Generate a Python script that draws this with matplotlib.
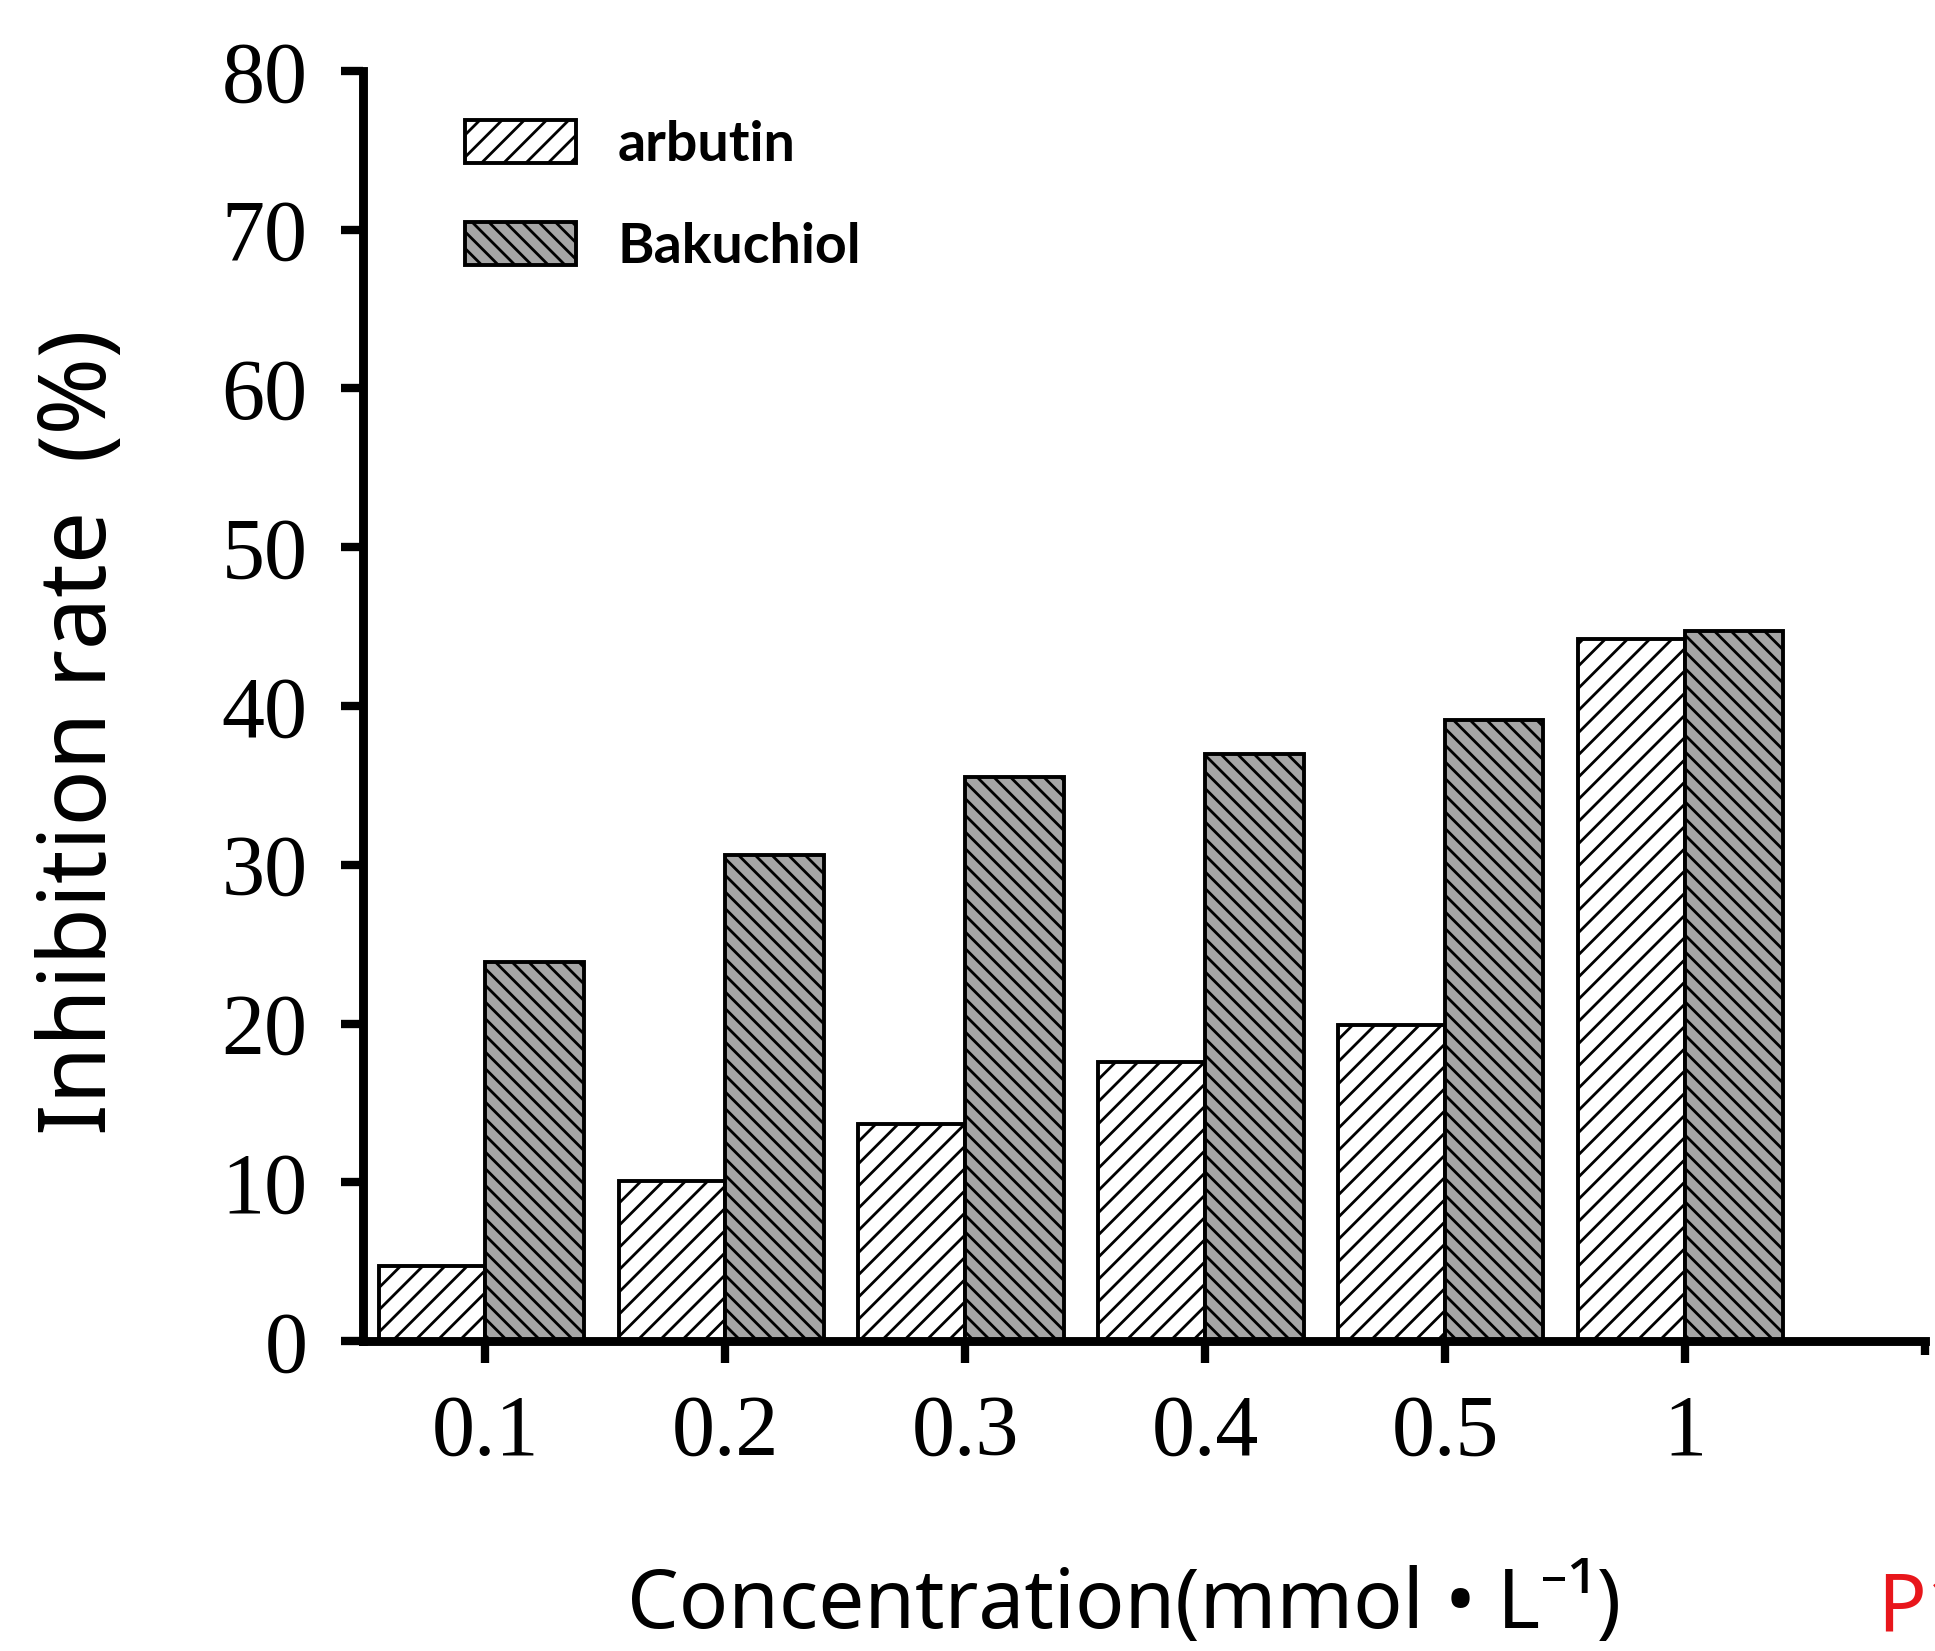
import matplotlib
matplotlib.use("Agg")
import matplotlib.pyplot as plt
import numpy as np

concentrations = ["0.1", "0.2", "0.3", "0.4", "0.5", "1"]
arbutin = [4.7, 10.1, 13.7, 17.6, 19.9, 44.2]
bakuchiol = [23.9, 30.6, 35.5, 37.0, 39.1, 44.7]
y_ticks = [0, 10, 20, 30, 40, 50, 60, 70, 80]

DPI = 200
W, H = 1935, 1651
fig = plt.figure(figsize=(W / DPI, H / DPI), dpi=DPI)
fig.patch.set_facecolor("white")
ax = fig.add_axes([363 / W, 1 - 1341 / H, (1925 - 363) / W, (1341 - 71) / H])

plt.rcParams["hatch.linewidth"] = 1.0

x = np.arange(len(concentrations))
# arbutin sits left of each tick, Bakuchiol right of it
ax.bar(x, arbutin, width=-0.445, align="edge", facecolor="white",
       edgecolor="black", linewidth=1.4, hatch="///", label="arbutin",
       zorder=2)
ax.bar(x, bakuchiol, width=0.41, align="edge", facecolor="#a6a6a6",
       edgecolor="black", linewidth=1.4, hatch="\\\\\\\\", label="Bakuchiol",
       zorder=2)

ax.set_xlim(-0.51, 6.0)
ax.set_ylim(0, 80)
ax.set_xticks(x)
ax.set_xticklabels(concentrations)
ax.set_xticks([6.0], minor=True)
ax.set_yticks(y_ticks)
ax.set_yticklabels([str(v) for v in y_ticks])

for s in ["top", "right"]:
    ax.spines[s].set_visible(False)
for s in ["left", "bottom"]:
    ax.spines[s].set_linewidth(3.2)
    ax.spines[s].set_capstyle("projecting")

serif = ["Liberation Serif", "DejaVu Serif"]
ax.tick_params(axis="x", which="major", direction="out", length=8, width=3.0,
               pad=11, labelsize=31)
ax.tick_params(axis="x", which="minor", direction="out", length=5, width=3.0)
ax.tick_params(axis="y", direction="out", length=8, width=3.0, pad=12,
               labelsize=31)
for lbl in ax.get_xticklabels() + ax.get_yticklabels():
    lbl.set_family(serif)

sans = ["Noto Sans", "DejaVu Sans"]
fig.text(82 / W, 1 - 732 / H, "Inhibition rate  (%)", rotation=90,
         ha="center", va="center", fontsize=33.5, family=sans)
fig.text(1124 / W, 1 - 1628 / H, "Concentration(mmol \u2022 L\u207b\u00b9)",
         ha="center", va="baseline", fontsize=29.5, family=sans)
fig.text(1877 / W, 1 - 1630 / H, "P1", ha="left", va="baseline",
         fontsize=29, color="#e8161b", family=sans)

ax.legend(loc="upper left", bbox_to_anchor=(465 / W, 1 - 120 / H),
          bbox_transform=fig.transFigure, frameon=False, borderpad=0,
          borderaxespad=0, handlelength=2.0, handleheight=0.82,
          labelspacing=0.93, handletextpad=0.75,
          prop={"family": ["Lato", "DejaVu Sans"], "weight": "bold",
                "size": 20})

fig.savefig("out.png", dpi=DPI, facecolor="white")
